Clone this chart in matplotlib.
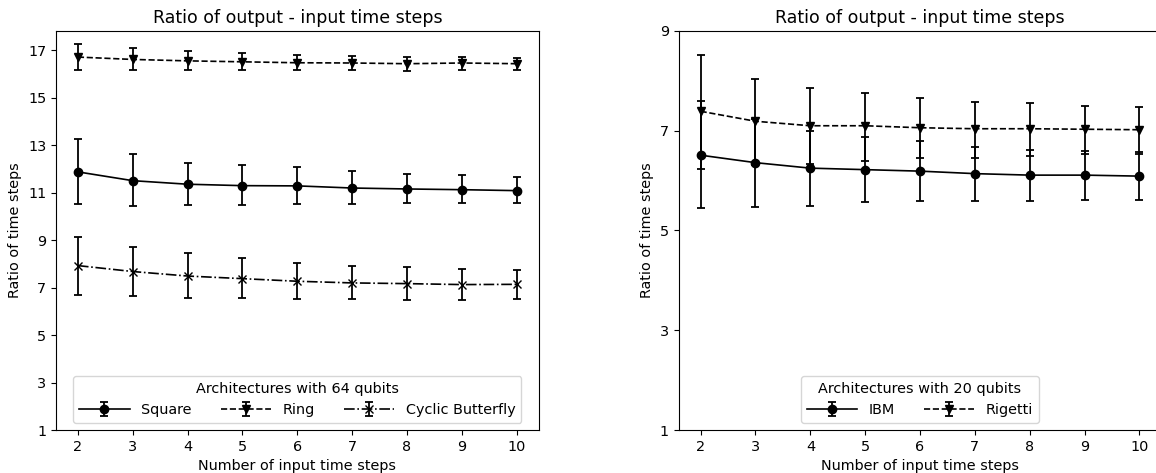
import numpy as np
import matplotlib
matplotlib.use('Agg')
import matplotlib.pyplot as plt

# ─── Data ───
input_steps = [2, 3, 4, 5, 6, 7, 8, 9, 10]

# 64-qubit architectures: mean, lower end, upper end of error bar
square_mean = [11.88, 11.51, 11.36, 11.30, 11.29, 11.20, 11.16, 11.13, 11.09]
square_low = [10.53, 10.43, 10.47, 10.47, 10.53, 10.53, 10.56, 10.56, 10.56]
square_high = [13.28, 12.62, 12.26, 12.17, 12.09, 11.91, 11.79, 11.76, 11.65]

ring_mean = [16.72, 16.62, 16.56, 16.52, 16.48, 16.47, 16.44, 16.47, 16.44]
ring_low = [16.19, 16.16, 16.16, 16.16, 16.16, 16.16, 16.14, 16.19, 16.19]
ring_high = [17.28, 17.10, 16.97, 16.89, 16.80, 16.78, 16.73, 16.72, 16.66]

butterfly_mean = [7.93, 7.68, 7.49, 7.38, 7.27, 7.20, 7.17, 7.13, 7.14]
butterfly_low = [6.70, 6.65, 6.55, 6.55, 6.51, 6.51, 6.49, 6.49, 6.52]
butterfly_high = [9.14, 8.73, 8.45, 8.25, 8.04, 7.92, 7.86, 7.77, 7.75]

# 20-qubit architectures
ibm_mean = [6.51, 6.36, 6.25, 6.22, 6.19, 6.14, 6.11, 6.11, 6.09]
ibm_low = [5.46, 5.47, 5.50, 5.57, 5.60, 5.60, 5.60, 5.61, 5.61]
ibm_high = [7.59, 7.24, 7.00, 6.87, 6.79, 6.68, 6.61, 6.60, 6.57]

rigetti_mean = [7.39, 7.19, 7.10, 7.10, 7.06, 7.04, 7.04, 7.03, 7.02]
rigetti_low = [6.24, 6.32, 6.34, 6.39, 6.45, 6.46, 6.49, 6.53, 6.54]
rigetti_high = [8.51, 8.04, 7.86, 7.76, 7.65, 7.58, 7.55, 7.50, 7.48]

TITLE = 'Ratio of output - input time steps'
FS = 10.4


def err(mean, low, high):
    mean = np.array(mean)
    return [mean - np.array(low), np.array(high) - mean]


def draw(ax, series, legend_title):
    for mean, low, high, fmt, label in series:
        ax.errorbar(input_steps, mean, yerr=err(mean, low, high), fmt=fmt,
                    color='black', capsize=3, markersize=6, linewidth=1.2,
                    elinewidth=1.3, capthick=1.3, label=label)
    ax.set_title(TITLE, fontsize=12.5)
    ax.set_xlabel('Number of input time steps', fontsize=FS)
    ax.set_ylabel('Ratio of time steps', fontsize=FS)
    ax.set_xticks(input_steps)
    ax.tick_params(labelsize=FS)
    ax.legend(title=legend_title, loc='lower center', ncol=len(series),
              fontsize=FS, title_fontsize=FS, handlelength=3.5)


fig = plt.figure(figsize=(11.56, 4.73), dpi=100)
ax1 = fig.add_axes([0.0484, 0.0909, 0.4176, 0.8436])
ax2 = fig.add_axes([0.5871, 0.0909, 0.4176, 0.8436])

draw(ax1, [
    (square_mean, square_low, square_high, '-o', 'Square'),
    (ring_mean, ring_low, ring_high, '--v', 'Ring'),
    (butterfly_mean, butterfly_low, butterfly_high, '-.x', 'Cyclic Butterfly'),
], 'Architectures with 64 qubits')
ax1.set_ylim(bottom=1)
ax1.set_yticks(np.arange(1, 18, 2))

draw(ax2, [
    (ibm_mean, ibm_low, ibm_high, '-o', 'IBM'),
    (rigetti_mean, rigetti_low, rigetti_high, '--v', 'Rigetti'),
], 'Architectures with 20 qubits')
ax2.set_ylim(1, 9)
ax2.set_yticks(np.arange(1, 10, 2))

fig.savefig('out.png', dpi=100)
